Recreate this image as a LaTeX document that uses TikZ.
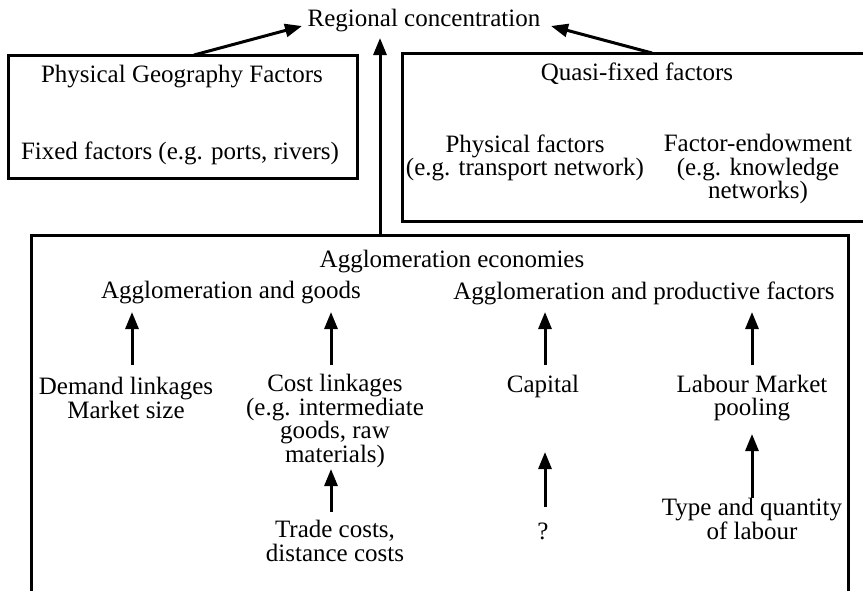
\documentclass[tikz,border=0pt]{standalone}
\usepackage{fontspec}
\setmainfont{Liberation Serif}
\usetikzlibrary{arrows.meta}
\begin{document}
\begin{tikzpicture}[x=1pt,y=-1pt,
  txt/.style={inner sep=0pt,align=center,font=\fontsize{25}{23.5}\selectfont},
  boxline/.style={line width=3pt},
  arr/.style={line width=3pt,-{Triangle[length=17pt,width=13pt]}}]
\useasboundingbox (0,0) rectangle (863,590);
% boxes
\draw[boxline] (8,55) rectangle (357,178);
\draw[boxline] (875,53) -- (402,53) -- (402,221) -- (875,221);
\draw[boxline] (31,600) -- (31,235) -- (848,235) -- (848,600);
% top
\node[txt] (rc) at (424,21) {Regional concentration};
\node[txt] (pgf) at (182,77) {Physical Geography Factors};
\node[txt] (ff) at (180,153) {Fixed factors (e.g. ports, rivers)};
\node[txt] (qf) at (637,74) {Quasi-fixed factors};
\node[txt] (pf) at (525,158) {Physical factors\\(e.g. transport network)};
\node[txt] (fe) at (758,169) {Factor-endowment\\(e.g. knowledge\\networks)};
% agglomeration
\node[txt] (ae) at (452,262) {Agglomeration economies};
\node[txt] (ag) at (231,293) {Agglomeration and goods};
\node[txt] (ap) at (644,293) {Agglomeration and productive factors};
\node[txt] (dl) at (126,398) {Demand linkages\\Market size};
\node[txt] (cl) at (335,421) {Cost linkages\\(e.g. intermediate\\goods, raw\\materials)};
\node[txt] (cap) at (543,386) {Capital};
\node[txt] (lm) at (752,398) {Labour Market\\pooling};
\node[txt] (tc) at (335,541) {Trade costs,\\distance costs};
\node[txt] (q) at (543,531) {?};
\node[txt] (tq) at (752,519) {Type and quantity\\of labour};
% coordinates for connectors
\coordinate (pgfTop) at (194,55);
\coordinate (qfTop) at (652,53);
\coordinate (aeTop) at (380,235);
\coordinate (rcL) at (302,26);
\coordinate (rcR) at (551,26);
\coordinate (rcB) at (380,38);
\draw[arr] (pgfTop) -- (rcL);
\draw[arr] (qfTop) -- (rcR);
\draw[arr] (aeTop) -- (rcB);
\coordinate (dlT) at (132,365); \coordinate (agA) at (132,312);
\coordinate (clT) at (331,365); \coordinate (agB) at (331,312);
\coordinate (capT) at (545,365); \coordinate (apA) at (545,312);
\coordinate (lmT) at (752,365); \coordinate (apB) at (752,312);
\coordinate (tcT) at (331,512); \coordinate (clB) at (331,469);
\coordinate (qT) at (545,507); \coordinate (capB) at (545,452);
\coordinate (tqT) at (752,498); \coordinate (lmB) at (752,434);
\draw[arr] (dlT) -- (agA);
\draw[arr] (clT) -- (agB);
\draw[arr] (capT) -- (apA);
\draw[arr] (lmT) -- (apB);
\draw[arr] (tcT) -- (clB);
\draw[arr] (qT) -- (capB);
\draw[arr] (tqT) -- (lmB);
\end{tikzpicture}
\end{document}
